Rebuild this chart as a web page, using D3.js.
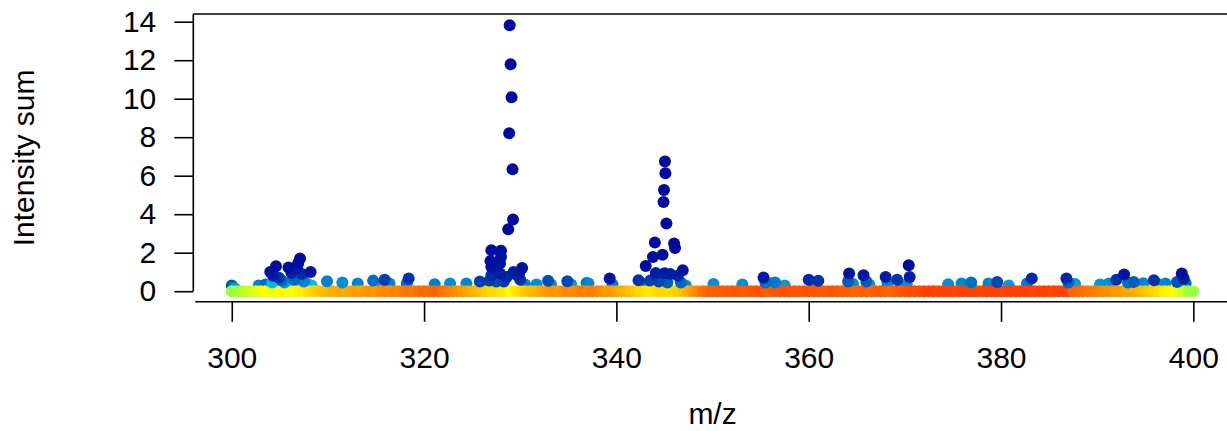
<!DOCTYPE html>
<html>
<head>
<meta charset="utf-8">
<script src="https://cdn.jsdelivr.net/npm/d3@7"></script>
<style>
  html, body { margin: 0; padding: 0; background: #ffffff; }
  svg { display: block; }
  text { font-family: "Liberation Sans", Arial, Helvetica, sans-serif; fill: #000; }
</style>
</head>
<body>
<svg id="chart" width="1227" height="431"></svg>
<script>
// ---------- DATA ----------
const xTicks = [300, 320, 340, 360, 380, 400];
const yTicks = [0, 2, 4, 6, 8, 10, 12, 14];
const xLabel = "m/z";
const yLabel = "Intensity sum";

// points with zero intensity sum (baseline), m/z and colour value
const baseMz = [300,300.5,301,301.5,302,302.5,303,303.5,304,304.5,305,305.5,306,306.5,307,307.5,308,308.5,309,309.5,
310,310.5,311,311.5,312,312.5,313,313.5,314,314.5,315,315.5,316,316.5,317,317.5,318,318.5,319,319.5,
320,320.5,321,321.5,322,322.5,323,323.5,324,324.5,325,325.5,326,326.5,327,327.5,328,328.5,329,329.5,
330,330.5,331,331.5,332,332.5,333,333.5,334,334.5,335,335.5,336,336.5,337,337.5,338,338.5,339,339.5,
340,340.5,341,341.5,342,342.5,343,343.5,344,344.5,345,345.5,346,346.5,347,347.5,348,348.5,349,349.5,
350,350.5,351,351.5,352,352.5,353,353.5,354,354.5,355,355.5,356,356.5,357,357.5,358,358.5,359,359.5,
360,360.5,361,361.5,362,362.5,363,363.5,364,364.5,365,365.5,366,366.5,367,367.5,368,368.5,369,369.5,
370,370.5,371,371.5,372,372.5,373,373.5,374,374.5,375,375.5,376,376.5,377,377.5,378,378.5,379,379.5,
380,380.5,381,381.5,382,382.5,383,383.5,384,384.5,385,385.5,386,386.5,387,387.5,388,388.5,389,389.5,
390,390.5,391,391.5,392,392.5,393,393.5,394,394.5,395,395.5,396,396.5,397,397.5,398,398.5,399,399.5,400];
const baseCol = [0.50,0.50,0.52, 0.54,0.55,0.57,0.58,
0.60,0.60,0.58,0.60,0.62,0.60,0.60,0.62,0.64,
0.66,0.68,0.70,0.72,
0.74,0.76,0.75,0.78,0.76,0.78,0.80,0.78,0.80,0.82,0.80,
0.82,0.84,0.82,0.85,0.84,0.86,0.88,0.86,0.88,0.90,0.88,0.90,0.90,0.88,
0.86,0.84,0.82,0.80,0.78,0.76,
0.74,0.72,0.70,0.68,0.68,0.66,0.64,
0.60,
0.64,0.66,0.70,0.72,
0.74,0.76,0.78,0.80,0.82,0.80,0.82,0.84,0.82,0.84,
0.86,0.84,0.86,0.84,0.82,0.80,0.80,0.78,0.76,0.74,0.72,
0.70,0.68,0.66,0.64,0.66,0.68,
0.68,0.66,0.68,0.70,0.72,
0.76,0.80,0.84,0.88,0.90,0.92,
0.92,0.93,0.94,0.94,0.95,0.94,0.93,0.94,0.95,0.96,0.94,0.92,0.94,0.95,0.96,0.96,0.95,0.94,0.95,0.96,0.95,0.94,0.93,0.94,0.95,0.94,0.93,0.92,
0.92,0.90,0.92,0.93,0.90,0.92,0.94,0.92,0.90,0.92,0.94,0.95,0.96,0.97,
0.98,0.99,1.00,1.00,0.99,1.00,1.00,1.00,0.99,1.00,1.00,1.00,1.00,0.99,1.00,1.00,1.00,1.00,0.99,1.00,1.00,1.00,1.00,1.00,0.99,1.00,1.00,1.00,0.99,1.00,1.00,0.99,
0.90,0.90,0.88,0.87,0.86,0.85,
0.84,0.82,0.82,0.80,0.80,0.78,0.78,0.76,0.74,
0.72,0.70,0.68,0.66,0.64,0.62,0.60,
0.58,0.55,0.52,0.50];

// points with non-zero intensity sum
const peakMz = [300.0,300.3,302.8,303.5,304.2,304.8,305.0,306.0,306.6,307.6,308.3,
304.0,304.3,304.6,304.9,305.2,305.5,305.9,306.2,306.5,306.8,306.9,307.1,307.3,307.5,307.8,308.2,
309.9,311.5,313.1,314.7,315.2,315.9,316.4,318.2,318.4,321.1,322.7,324.4,325.8,326.5,
326.8,327.5,328.3,327.0,327.9,328.6,329.6,329.9,329.3,330.0,
327.0,328.0,328.0,326.9,327.0,327.9,328.75,328.9,329.0,329.1,328.85,329.2,329.25,330.2,
330.5,331.7,332.9,333.2,334.9,335.3,336.9,337.1,339.3,339.6,342.3,342.6,
343.0,347.2,344.4,343.5,345.3,346.7,344.1,345.0,345.6,346.4,
343.05,343.8,344.0,344.8,345.2,344.9,344.95,345.1,345.05,346.0,346.1,346.9,
350.1,353.1,355.5,356.0,356.5,357.5,355.3,360.0,361.0,360.5,
364.1,364.6,364.2,365.7,366.0,366.3,368.0,368.2,369.2,369.6,370.4,370.5,370.2,
374.5,375.9,376.9,378.7,379.6,380.8,382.7,383.2,386.8,387.0,387.7,
390.3,391.2,392.0,392.8,393.2,393.8,394.8,395.9,396.3,397.1,398.3,398.8,399.0,399.2];
const peakInt = [0.30,0.15,0.30,0.35,0.45,0.40,0.35,0.40,0.35,0.30,0.30,
1.00,0.80,1.30,0.70,0.55,0.45,1.23,0.95,0.60,1.20,1.44,1.70,0.90,0.50,0.40,1.00,
0.52,0.45,0.40,0.55,0.35,0.60,0.40,0.40,0.66,0.36,0.40,0.40,0.50,0.30,
0.55,0.50,0.50,0.83,0.92,0.74,0.85,0.95,1.00,0.60,
2.13,2.10,1.78,1.57,1.26,1.44,3.22,13.82,11.79,10.08,8.21,6.34,3.72,1.21,
0.35,0.35,0.54,0.35,0.52,0.35,0.43,0.40,0.66,0.35,0.57,0.40,
0.35,0.30,0.50,0.55,0.45,0.45,0.95,0.93,0.90,0.80,
1.31,1.78,2.53,1.90,3.52,4.64,5.26,6.13,6.74,2.48,2.25,1.09,
0.38,0.35,0.45,0.42,0.45,0.30,0.71,0.60,0.54,0.35,
0.50,0.38,0.92,0.83,0.50,0.35,0.74,0.40,0.60,0.35,1.35,0.74,0.35,
0.36,0.40,0.45,0.40,0.48,0.30,0.40,0.66,0.66,0.45,0.38,
0.35,0.40,0.60,0.87,0.45,0.48,0.42,0.57,0.38,0.40,0.48,0.92,0.66,0.40];
const peakCol = [0.18,0.30,0.25,0.20,0.36,0.38,0.36,0.38,0.40,0.40,0.36,
0.04,0.06,0.03,0.10,0.20,0.30,0.03,0.06,0.20,0.05,0.03,0.02,0.08,0.25,0.36,0.04,
0.25,0.28,0.26,0.22,0.30,0.12,0.25,0.22,0.10,0.25,0.28,0.26,0.12,0.25,
0.12,0.15,0.12,0.08,0.06,0.08,0.06,0.05,0.06,0.10,
0.03,0.03,0.03,0.03,0.04,0.04,0.02,0.02,0.02,0.02,0.02,0.02,0.02,0.04,
0.25,0.28,0.15,0.28,0.14,0.30,0.22,0.26,0.04,0.24,0.10,0.22,
0.22,0.28,0.14,0.12,0.18,0.20,0.06,0.06,0.06,0.07,
0.03,0.03,0.02,0.03,0.02,0.02,0.02,0.02,0.02,0.02,0.03,0.04,
0.28,0.28,0.22,0.28,0.24,0.30,0.05,0.08,0.10,0.26,
0.18,0.28,0.04,0.05,0.18,0.30,0.06,0.26,0.10,0.30,0.02,0.06,0.28,
0.28,0.26,0.22,0.26,0.14,0.30,0.24,0.08,0.08,0.20,0.30,
0.30,0.28,0.10,0.04,0.22,0.18,0.26,0.10,0.28,0.26,0.16,0.03,0.06,0.20];

// colour ramp (value -> colour)
const rampStops  = [0, 0.1, 0.2, 0.3, 0.4, 0.5, 0.6, 0.7, 0.8, 0.9, 1.0];
const rampColors = ["#000099","#0033AA","#0066C0","#0099DD","#00CCF5","#99FF44",
                    "#FFFF00","#FFCC00","#FF9900","#FF6600","#FF4000"];

// ---------- CHART ----------
const svg = d3.select("#chart");
const x = d3.scaleLinear().domain([296, 404]).range([193.3, 1231.8]);
const y = d3.scaleLinear().domain([-0.55, 14.4]).range([301.8, 14]);
const col = d3.scaleLinear().domain(rampStops).range(rampColors).interpolate(d3.interpolateRgb);

const R = 6;
const base = baseMz.map((m, i) => ({mz: m, v: 0, c: baseCol[i]}));
const peaks = peakMz.map((m, i) => ({mz: m, v: peakInt[i], c: peakCol[i]}));

// low points drawn below baseline band, the rest on top
const pts = svg.append("g");
pts.selectAll("circle.low").data(peaks.filter(d => d.v < 0.45)).join("circle")
  .attr("cx", d => x(d.mz)).attr("cy", d => y(d.v)).attr("r", R).attr("fill", d => col(d.c));
pts.selectAll("circle.base").data(base).join("circle")
  .attr("cx", d => x(d.mz)).attr("cy", d => y(d.v)).attr("r", R).attr("fill", d => col(d.c));
pts.selectAll("circle.high").data(peaks.filter(d => d.v >= 0.45).sort((a, b) => b.c - a.c)).join("circle")
  .attr("cx", d => x(d.mz)).attr("cy", d => y(d.v)).attr("r", R).attr("fill", d => col(d.c));

// frame lines
const frame = svg.append("g").attr("stroke", "#000").attr("stroke-width", 1.6).attr("fill", "none");
frame.append("line").attr("x1", x(296)).attr("x2", 1240).attr("y1", y(14.4)).attr("y2", y(14.4));
frame.append("line").attr("x1", x(296)).attr("x2", x(296)).attr("y1", y(14.4)).attr("y2", y(0));
frame.append("line").attr("x1", x(296.2)).attr("x2", 1240).attr("y1", y(-0.55)).attr("y2", y(-0.55));

// y axis
const yAxis = d3.axisLeft(y).tickValues(yTicks).tickSize(19).tickPadding(18).tickFormat(d3.format("d"));
const gy = svg.append("g").attr("transform", `translate(${x(296)},0)`).call(yAxis);
gy.select(".domain").remove();
gy.selectAll(".tick line").attr("stroke", "#000").attr("stroke-width", 1.6);
gy.selectAll(".tick text").attr("font-size", 30).attr("fill", "#000")
  .style("font-family", '"Liberation Sans", Arial, Helvetica, sans-serif');

// x axis
const xAxis = d3.axisBottom(x).tickValues(xTicks).tickSize(20).tickPadding(25).tickFormat(d3.format("d"));
const gx = svg.append("g").attr("transform", `translate(0,${y(-0.55)})`).call(xAxis);
gx.select(".domain").remove();
gx.selectAll(".tick line").attr("stroke", "#000").attr("stroke-width", 1.6);
gx.selectAll(".tick text").attr("font-size", 30).attr("fill", "#000")
  .style("font-family", '"Liberation Sans", Arial, Helvetica, sans-serif');

// axis titles
svg.append("text").attr("x", (x(296) + x(404)) / 2).attr("y", 424)
  .attr("text-anchor", "middle").attr("font-size", 30).text(xLabel);
svg.append("text").attr("transform", `translate(34,${(y(-0.55) + y(14.4)) / 2}) rotate(-90)`)
  .attr("text-anchor", "middle").attr("font-size", 30).text(yLabel);
</script>
</body>
</html>
